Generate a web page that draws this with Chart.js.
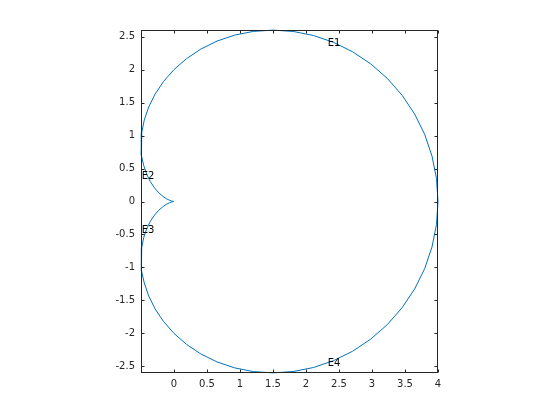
<!DOCTYPE html>
<html>
<head>
<meta charset="utf-8">
<script src="https://cdn.jsdelivr.net/npm/chart.js@4/dist/chart.umd.min.js"></script>
<style>
  body { margin: 0; background: #fff; }
</style>
</head>
<body>
<canvas id="myChart" width="560" height="420"></canvas>
<script>
// curve points (closed loop, upper half then lower half)
const xVals = [
  4, 3.9772, 3.9093, 3.7979, 3.6454, 3.4554, 3.2321, 2.9803, 2.7057, 2.4142,
  2.112, 1.8051, 1.5, 1.2025, 0.918, 0.6516, 0.4076, 0.1895, 0, -0.1591,
  -0.287, -0.3837, -0.4501, -0.488, -0.5, -0.4892, -0.4592, -0.4142, -0.3584, -0.2963,
  -0.2321, -0.1698, -0.1133, -0.0658, -0.0299, -0.0076, 0,
  -0.0076, -0.0299, -0.0658, -0.1133, -0.1698, -0.2321, -0.2963, -0.3584, -0.4142, -0.4592,
  -0.4892, -0.5, -0.488, -0.4501, -0.3837, -0.287, -0.1591, 0, 0.1895, 0.4076,
  0.6516, 0.918, 1.2025, 1.5, 1.8051, 2.112, 2.4142, 2.7057, 2.9803, 3.2321,
  3.4554, 3.6454, 3.7979, 3.9093, 3.9772, 4
];
const yVals = [
  0, 0.348, 0.6893, 1.0177, 1.3268, 1.6113, 1.866, 2.0869, 2.2704, 2.4142,
  2.5169, 2.578, 2.5981, 2.5787, 2.5222, 2.4319, 2.3116, 2.166, 2, 1.8187,
  1.6276, 1.4319, 1.2366, 1.0466, 0.866, 0.6986, 0.5473, 0.4142, 0.3008, 0.2075,
  0.134, 0.0792, 0.0413, 0.0176, 0.0053, 0.0007, 0,
  -0.0007, -0.0053, -0.0176, -0.0413, -0.0792, -0.134, -0.2075, -0.3008, -0.4142, -0.5473,
  -0.6986, -0.866, -1.0466, -1.2366, -1.4319, -1.6276, -1.8187, -2, -2.166, -2.3116,
  -2.4319, -2.5222, -2.5787, -2.5981, -2.578, -2.5169, -2.4142, -2.2704, -2.0869, -1.866,
  -1.6113, -1.3268, -1.0177, -0.6893, -0.348, 0
];

const xTicks = [0, 0.5, 1, 1.5, 2, 2.5, 3, 3.5, 4];
const yTicks = [-2.5, -2, -1.5, -1, -0.5, 0, 0.5, 1, 1.5, 2, 2.5];

const labelTexts = ["E1", "E2", "E3", "E4"];
const labelX = [2.33, -0.49, -0.49, 2.33];
const labelY = [2.39, 0.385, -0.445, -2.455];

const points = xVals.map((x, i) => ({ x: x, y: yVals[i] }));
const axisColor = "#262626";

// box with inward ticks on all sides, plus text labels
const boxPlugin = {
  id: "box",
  afterDraw(chart) {
    const ctx = chart.ctx;
    const a = chart.chartArea;
    const xs = chart.scales.x;
    const ys = chart.scales.y;
    const L = Math.round(a.left) + 0.5, R = Math.round(a.right) - 0.5;
    const T = Math.round(a.top) + 0.5, B = Math.round(a.bottom) - 0.5;
    ctx.save();
    ctx.strokeStyle = axisColor;
    ctx.lineWidth = 1;
    ctx.strokeRect(L, T, R - L, B - T);
    ctx.beginPath();
    xTicks.forEach(v => {
      const px = Math.round(xs.getPixelForValue(v)) + 0.5;
      ctx.moveTo(px, B); ctx.lineTo(px, B - 3);
      ctx.moveTo(px, T); ctx.lineTo(px, T + 3);
    });
    yTicks.forEach(v => {
      const py = Math.round(ys.getPixelForValue(v)) + 0.5;
      ctx.moveTo(L, py); ctx.lineTo(L + 3, py);
      ctx.moveTo(R, py); ctx.lineTo(R - 3, py);
    });
    ctx.stroke();

    ctx.fillStyle = "#000";
    ctx.font = "10px 'DejaVu Sans'";
    ctx.textAlign = "left";
    ctx.textBaseline = "middle";
    labelTexts.forEach((t, i) => {
      ctx.fillText(t, xs.getPixelForValue(labelX[i]), ys.getPixelForValue(labelY[i]));
    });
    ctx.restore();
  }
};

new Chart(document.getElementById("myChart").getContext("2d"), {
  type: "scatter",
  data: {
    datasets: [
      {
        data: points,
        showLine: true,
        borderColor: "#0072BD",
        borderWidth: 1,
        pointRadius: 0,
        tension: 0,
        clip: 2,
      },
    ],
  },
  options: {
    responsive: false,
    animation: false,
    layout: { padding: { top: 30, right: 122, left: 0, bottom: 0 } },
    plugins: { legend: { display: false }, tooltip: { enabled: false } },
    scales: {
      x: {
        type: "linear",
        min: -0.5,
        max: 4,
        grid: { display: false, drawTicks: false, tickLength: 0 },
        border: { display: false },
        afterBuildTicks: s => { s.ticks = xTicks.map(v => ({ value: v })); },
        afterFit: s => { s.height = 47; },
        ticks: {
          color: axisColor,
          font: { family: "DejaVu Sans", size: 10 },
          padding: 5,
          maxRotation: 0,
          callback: v => String(v),
        },
      },
      y: {
        type: "linear",
        min: -2.6,
        max: 2.6,
        grid: { display: false, drawTicks: false, tickLength: 0 },
        border: { display: false },
        afterBuildTicks: s => { s.ticks = yTicks.map(v => ({ value: v })); },
        afterFit: s => { s.width = 141; },
        ticks: {
          color: axisColor,
          font: { family: "DejaVu Sans", size: 10 },
          padding: 6,
          callback: v => String(v),
        },
      },
    },
  },
  plugins: [boxPlugin],
});
</script>
</body>
</html>
